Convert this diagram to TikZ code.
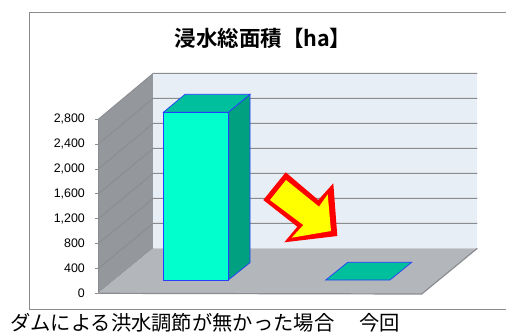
\documentclass[tikz,border=0pt]{standalone}
\usepackage{fontspec}
\setmainfont{Liberation Sans}
\newfontfamily\cjk{Noto Sans CJK JP}[BoldFont={Noto Sans CJK JP Bold}]

\definecolor{framegray}{HTML}{8C8C8C}
\definecolor{wallback}{HTML}{E8EEF5}
\definecolor{wallleft}{HTML}{94979B}
\definecolor{floorgray}{HTML}{B3B6BA}
\definecolor{gridgray}{HTML}{8A8C90}
\definecolor{barfront}{HTML}{00FFCC}
\definecolor{bartop}{HTML}{00BF9C}
\definecolor{barside}{HTML}{00A080}
\definecolor{baredge}{HTML}{2A3CFF}
\definecolor{arrowred}{HTML}{FF0000}
\definecolor{arrowyellow}{HTML}{FFFF00}

\begin{document}
\begin{tikzpicture}[x=1pt,y=-1pt,line join=miter,
    grid line/.style={draw=gridgray,line width=0.9pt},
    bar edge/.style={draw=baredge,line width=0.7pt},
    axis label/.style={anchor=east,inner sep=0pt,font=\fontsize{12.4}{14}\selectfont},
    title text/.style={font=\cjk\bfseries\fontsize{21.5}{24}\selectfont},
    category text/.style={anchor=base west,inner sep=0pt,font=\cjk\fontsize{20.3}{24}\selectfont}]
    \useasboundingbox (0,0) rectangle (506,332);
    \fill[white] (0,0) rectangle (506,332);

    % chart frame
    \draw[framegray,line width=1pt] (506,12.3) -| (29.5,309) -- (506,309);
    \node[title text] (title) at (263,38) {浸水総面積【ha】};

    % walls and floor
    \fill[wallleft] (98.3,293.3) -- (98.3,119.3) -- (153.3,73.3) -- (153.3,248.3) -- cycle;
    \fill[wallback] (153.3,73.3) rectangle (477.3,248.3);
    \fill[floorgray] (98.3,293.3) -- (153.3,248.3) -- (477.3,248.3) -- (421.7,294) -- cycle;
    \foreach \k in {1,...,7}
        \draw[grid line] (98.3,293.3-24.86*\k) -- (153.3,248.3-25*\k) -- (477.3,248.3-25*\k);
    \draw[grid line] (98.3,119.3) -- (98.3,293.3);
    \draw[grid line,line width=1.2pt] (98.3,293.3) -- (421.7,294) -- (477.3,248.3);

    % axis
    \foreach \k/\lab in {0/0,1/400,2/800,3/{1,200},4/{1,600},5/{2,000},6/{2,400},7/{2,800}}{
        \draw[gridgray,line width=0.8pt] (95,293.3-24.86*\k) -- (98.3,293.3-24.86*\k);
        \node[axis label] (label\k) at (85,293.3-24.86*\k) {\lab};
    }

    % bars
    \filldraw[bar edge,fill=barside] (228.3,112.3) -- (250,94.3) -- (250,262.7) -- (228.3,280) -- cycle;
    \filldraw[bar edge,fill=bartop] (163.3,112.3) -- (185,94.3) -- (250,94.3) -- (228.3,112.3) -- cycle;
    \filldraw[bar edge,fill=barfront] (163.3,112.3) rectangle (228.3,280);
    \filldraw[bar edge,fill=bartop] (325.7,280) -- (347.7,262.3) -- (411.7,262.3) -- (390,280) -- cycle;

    % arrow
    \fill[arrowred] (263.3,200) -- (285.7,172.3) -- (318.3,200) -- (333.3,183.3)
        -- (337.3,236) -- (284.3,242.3) -- (297.3,226.7) -- cycle;
    \fill[arrowyellow] (270,200) -- (286,180) -- (319,206.7) -- (327.7,194.3)
        -- (331,231) -- (291.7,237.7) -- (303.3,225) -- cycle;

    \node[category text] (category) at (10,330) {ダムによる洪水調節が無かった場合　\hspace{5pt}今回};
\end{tikzpicture}
\end{document}
